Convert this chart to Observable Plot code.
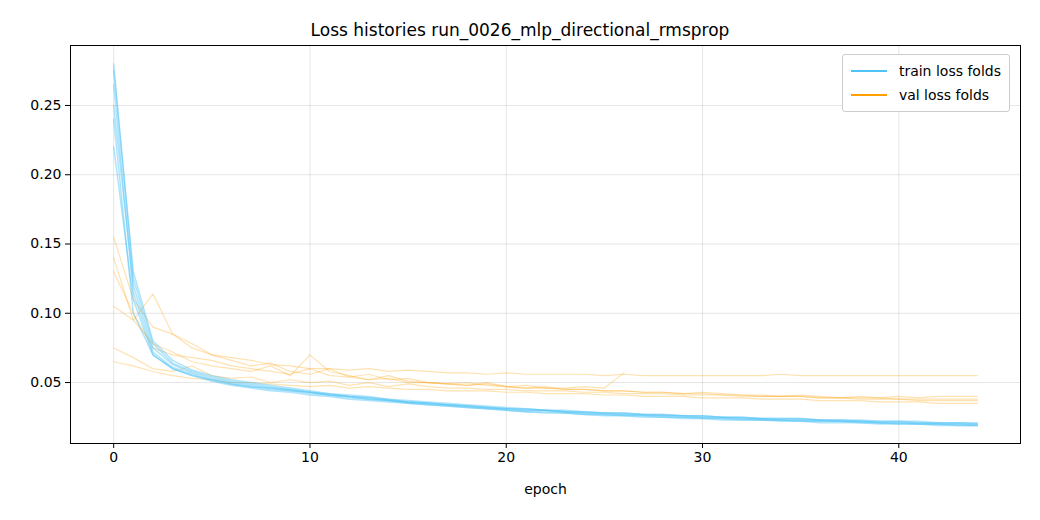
<!DOCTYPE html>
<html><head><meta charset="utf-8">
<script src="https://cdn.jsdelivr.net/npm/d3@7"></script>
<script src="https://cdn.jsdelivr.net/npm/@observablehq/plot@0.6"></script>
<style>body{margin:0;background:#fff;font-family:"DejaVu Sans",sans-serif}#wrap{position:relative;width:1040px}
#title{height:35px;box-sizing:border-box;padding-top:18px;line-height:24px;text-align:center;font-size:17px}
#legend{position:absolute;right:30px;top:54px;border:1px solid #ccc;border-radius:3px;background:#fff;padding:4px 8px;font-size:14px}
#legend div{display:flex;align-items:center;height:24px}#legend span{display:inline-block;width:36px;height:2px;margin-right:12px}</style>
</head><body><div id="wrap"><div id="title">Loss histories run_0026_mlp_directional_rmsprop</div><div id="chart"></div>
<div id="legend"><div><span style="background:#4fc3f7"></span>train loss folds</div><div><span style="background:#ffa000"></span>val loss folds</div></div></div>
<script>
const trainFolds = [
[0.28,0.125,0.078,0.064,0.058,0.054,0.051,0.049,0.047,0.045,0.043,0.042,0.040,0.039,0.038,0.036,0.035,0.034,0.033,0.032,0.031,0.030,0.030,0.029,0.028,0.028,0.027,0.027,0.026,0.026,0.025,0.025,0.024,0.024,0.023,0.023,0.023,0.022,0.022,0.021,0.021,0.021,0.020,0.020,0.019],
[0.265,0.115,0.072,0.061,0.056,0.052,0.049,0.047,0.045,0.044,0.042,0.041,0.039,0.038,0.037,0.035,0.034,0.033,0.032,0.031,0.030,0.029,0.029,0.028,0.027,0.027,0.026,0.026,0.025,0.025,0.024,0.024,0.023,0.023,0.023,0.022,0.022,0.022,0.021,0.021,0.020,0.020,0.020,0.019,0.019],
[0.25,0.12,0.075,0.063,0.057,0.053,0.050,0.048,0.046,0.045,0.043,0.041,0.040,0.039,0.037,0.036,0.035,0.034,0.033,0.032,0.031,0.031,0.030,0.029,0.029,0.028,0.028,0.027,0.027,0.026,0.026,0.025,0.025,0.024,0.024,0.024,0.023,0.023,0.022,0.022,0.022,0.021,0.021,0.021,0.020],
[0.22,0.11,0.07,0.060,0.055,0.051,0.048,0.046,0.044,0.043,0.041,0.040,0.038,0.037,0.036,0.035,0.034,0.033,0.032,0.031,0.030,0.029,0.028,0.028,0.027,0.026,0.026,0.025,0.025,0.024,0.024,0.023,0.023,0.023,0.022,0.022,0.021,0.021,0.021,0.020,0.020,0.020,0.019,0.019,0.019],
[0.275,0.13,0.08,0.066,0.059,0.055,0.052,0.050,0.048,0.046,0.044,0.042,0.041,0.040,0.038,0.037,0.036,0.035,0.034,0.033,0.032,0.031,0.030,0.030,0.029,0.028,0.028,0.027,0.027,0.026,0.026,0.025,0.025,0.024,0.024,0.024,0.023,0.023,0.023,0.022,0.022,0.022,0.021,0.021,0.021],
[0.24,0.10,0.07,0.060,0.055,0.052,0.049,0.047,0.046,0.044,0.043,0.041,0.040,0.038,0.037,0.036,0.035,0.034,0.033,0.032,0.031,0.030,0.030,0.029,0.028,0.027,0.027,0.026,0.026,0.025,0.025,0.024,0.024,0.023,0.023,0.023,0.022,0.022,0.022,0.021,0.021,0.020,0.020,0.020,0.020]
];
const valFolds = [
[0.13,0.10,0.075,0.070,0.068,0.066,0.062,0.060,0.058,0.056,0.060,0.055,0.054,0.056,0.052,0.053,0.050,0.049,0.048,0.050,0.047,0.046,0.047,0.045,0.045,0.044,0.044,0.043,0.043,0.042,0.043,0.042,0.041,0.041,0.040,0.041,0.040,0.039,0.040,0.039,0.040,0.039,0.040,0.040,0.040],
[0.155,0.11,0.09,0.085,0.075,0.070,0.068,0.066,0.063,0.062,0.060,0.060,0.059,0.060,0.058,0.059,0.058,0.057,0.057,0.056,0.057,0.056,0.056,0.056,0.056,0.055,0.056,0.055,0.055,0.055,0.055,0.055,0.055,0.055,0.056,0.055,0.055,0.055,0.055,0.055,0.055,0.055,0.055,0.055,0.055],
[0.105,0.095,0.114,0.085,0.078,0.070,0.066,0.062,0.064,0.058,0.056,0.060,0.054,0.052,0.055,0.051,0.050,0.049,0.050,0.048,0.047,0.046,0.046,0.045,0.045,0.044,0.044,0.043,0.043,0.042,0.042,0.041,0.041,0.040,0.040,0.040,0.039,0.039,0.038,0.038,0.038,0.037,0.037,0.037,0.037],
[0.065,0.062,0.058,0.055,0.053,0.052,0.050,0.050,0.049,0.048,0.047,0.048,0.046,0.047,0.046,0.045,0.045,0.044,0.044,0.044,0.043,0.043,0.042,0.042,0.042,0.041,0.041,0.040,0.040,0.040,0.039,0.039,0.039,0.038,0.038,0.038,0.037,0.037,0.037,0.036,0.036,0.036,0.035,0.035,0.035],
[0.14,0.095,0.078,0.072,0.065,0.062,0.060,0.058,0.062,0.055,0.070,0.058,0.055,0.052,0.053,0.050,0.050,0.049,0.048,0.049,0.047,0.048,0.046,0.046,0.047,0.046,0.057],
[0.075,0.068,0.060,0.058,0.062,0.055,0.053,0.054,0.050,0.052,0.050,0.051,0.048,0.050,0.047,0.049,0.047,0.046,0.046,0.045,0.045,0.044,0.044,0.044,0.043,0.043,0.042,0.042,0.042,0.041,0.041,0.041,0.040,0.040,0.040,0.040,0.039,0.039,0.039,0.039,0.038,0.038,0.038,0.038,0.038]
];
const xTicks = [0,10,20,30,40];
const yTicks = [0.05,0.10,0.15,0.20,0.25];
const toRows = (folds, kind) => folds.flatMap((f,i)=>f.map((v,e)=>({epoch:e,loss:v,fold:kind+i})));
const train = toRows(trainFolds,"t"), val = toRows(valFolds,"v");
const chart = Plot.plot({
  width:1040, height:485, marginLeft:70, marginRight:20, marginTop:10, marginBottom:77,
  style:{fontSize:"14px", fontFamily:"DejaVu Sans, sans-serif", color:"#000"},
  x:{domain:[-2.2,46.2], ticks:xTicks, tickFormat:d=>d, label:"epoch"},
  y:{domain:[0.006,0.2933], ticks:yTicks, tickFormat:d=>d.toFixed(2), label:null},
  marks:[
    Plot.gridX(xTicks,{stroke:"#000",strokeOpacity:0.1}),
    Plot.gridY(yTicks,{stroke:"#000",strokeOpacity:0.1}),
    Plot.line(val,{x:"epoch",y:"loss",z:"fold",stroke:"#ffa000",strokeOpacity:0.3,strokeWidth:1.2}),
    Plot.line(train,{x:"epoch",y:"loss",z:"fold",stroke:"#4fc3f7",strokeOpacity:0.45,strokeWidth:1.5}),
    Plot.axisX(xTicks,{tickSize:5,tickPadding:4,label:"epoch",labelAnchor:"center",labelArrow:"none",labelOffset:50}),
    Plot.axisY(yTicks,{tickSize:5,tickPadding:4,tickFormat:d=>d.toFixed(2),label:null}),
    Plot.frame({stroke:"#000"})
  ]
});
document.getElementById("chart").appendChild(chart);
</script></body></html>
